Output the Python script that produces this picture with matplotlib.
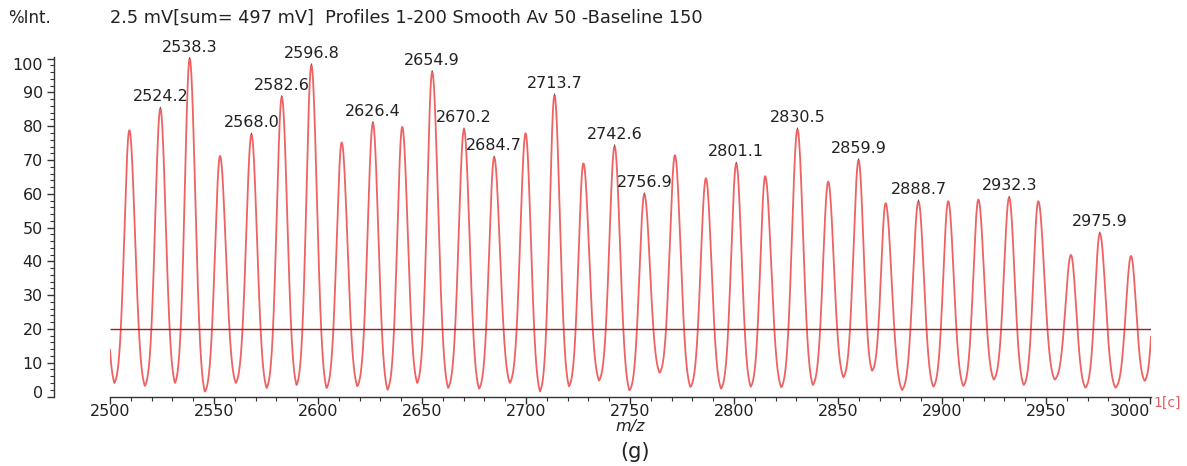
import numpy as np
import matplotlib
matplotlib.use('Agg')
import matplotlib.pyplot as plt
from matplotlib.ticker import MultipleLocator
from matplotlib.transforms import ScaledTranslation

plt.rcParams['font.family'] = ['DejaVu Sans']

# peak apexes (m/z, %Int), incl. one just outside each end
peak_mz = [2494.9, 2509.3, 2524.2, 2538.3, 2552.9, 2568.0, 2582.6, 2596.8, 2611.4,
           2626.4, 2640.5, 2654.9, 2670.2, 2684.7, 2699.8, 2713.7, 2727.6, 2742.6,
           2756.9, 2771.6, 2786.5, 2801.1, 2815.0, 2830.5, 2845.3, 2859.9, 2872.9,
           2888.7, 2903.0, 2917.5, 2932.3, 2946.3, 2962.0, 2975.9, 2990.9, 3004.0]
peak_int = [80.0, 78.8, 85.3, 100.0, 71.2, 77.6, 88.7, 98.1, 75.2,
            81.0, 79.8, 96.1, 79.1, 70.8, 77.9, 89.2, 69.0, 74.1,
            59.9, 71.4, 64.6, 69.0, 65.2, 79.1, 63.6, 70.0, 57.2,
            57.8, 57.8, 58.3, 58.9, 57.8, 41.9, 48.3, 41.6, 55.0]
# minima between neighbouring peaks
valley_int = [4.0, 3.1, 4.0, 1.4, 4.0, 2.5, 3.4, 2.5, 3.0, 2.0, 4.0, 2.5, 2.3, 4.0,
              1.5, 3.0, 4.7, 1.8, 7.0, 2.8, 2.3, 2.9, 2.7, 3.4, 5.7, 7.6, 1.9, 2.9,
              3.1, 5.0, 3.4, 5.0, 2.6, 2.6, 4.6]

# labelled peaks
label_mz = [2524.2, 2538.3, 2568.0, 2582.6, 2596.8, 2626.4, 2654.9, 2670.2, 2684.7,
            2713.7, 2742.6, 2756.9, 2801.1, 2830.5, 2859.9, 2888.7, 2932.3, 2975.9]

x_ticks = [2500, 2550, 2600, 2650, 2700, 2750, 2800, 2850, 2900, 2950, 3000]
y_ticks = [0, 10, 20, 30, 40, 50, 60, 70, 80, 90, 100]
threshold = 20
header = "2.5 mV[sum= 497 mV]  Profiles 1-200 Smooth Av 50 -Baseline 150"


def bell(u, k):
    return (np.exp(-(u * k) ** 2) - np.exp(-k ** 2)) / (1 - np.exp(-k ** 2))


# smooth trace through the apexes and minima
pk = np.array(peak_mz)
hk = np.array(peak_int)
vk = np.array(valley_int)
vx = (pk[:-1] + pk[1:]) / 2
x = np.linspace(2500, 3000.5, 5000)
y = np.zeros_like(x)
for i in range(len(vk)):
    m = (x >= pk[i]) & (x < vx[i])
    u = (x[m] - pk[i]) / (vx[i] - pk[i])
    y[m] = vk[i] + (hk[i] - vk[i]) * bell(u, 1.95)
    m = (x >= vx[i]) & (x <= pk[i + 1])
    u = (pk[i + 1] - x[m]) / (pk[i + 1] - vx[i])
    y[m] = vk[i] + (hk[i + 1] - vk[i]) * bell(u, 2.15)

W, H = 1187, 466
fig = plt.figure(figsize=(W / 100, H / 100), dpi=100)
ax = fig.add_axes([110 / W, 69.5 / H, 1041 / W, 339.5 / H])

ax.plot(x, y, color='#ee6262', lw=1.3)
ax.hlines(threshold, 2500, 3000.5, color='#a01e22', lw=1.0)

for mz in label_mz:
    h = peak_int[peak_mz.index(mz)]
    ax.annotate(f"{mz:.1f}", xy=(mz, h), xytext=(0, 3), textcoords='offset points',
                ha='center', va='bottom', fontsize=11.5, color='#222222',
                arrowprops=dict(arrowstyle='-', lw=0.6, color='#444444',
                                shrinkA=0, shrinkB=0))

ax.set_xlim(2500, 3000.5)
ax.set_ylim(0, 100.5)
ax.set_xticks(x_ticks)
ax.set_xticklabels([str(t) for t in x_ticks])
ax.set_yticks(y_ticks)
ax.set_yticklabels([str(t) for t in y_ticks])
ax.xaxis.set_minor_locator(MultipleLocator(10))
ax.yaxis.set_minor_locator(MultipleLocator(2))

for s in ['top', 'right']:
    ax.spines[s].set_visible(False)
ax.spines['left'].set_position(('outward', 40.3))
for s in ['left', 'bottom']:
    ax.spines[s].set_color('#333333')
    ax.spines[s].set_linewidth(1.0)

ax.tick_params(which='major', length=5, width=1, color='#333333', labelcolor='#222222')
ax.tick_params(which='minor', length=3, width=0.8, color='#333333')
ax.tick_params(axis='x', which='major', pad=0.5, labelsize=11.5)
ax.tick_params(axis='y', which='major', pad=3, labelsize=11.5)

# last m/z label sits left of its tick, as in the reference
for lab in ax.get_xticklabels():
    if lab.get_text() == '3000':
        lab.set_horizontalalignment('right')

# the end labels of the intensity axis sit slightly inward in the reference
yt = ax.yaxis.get_major_ticks()
yt[0].label1.set_transform(yt[0].label1.get_transform()
                           + ScaledTranslation(0, 5 / 100, fig.dpi_scale_trans))
yt[-1].label1.set_transform(yt[-1].label1.get_transform()
                            + ScaledTranslation(0, -5 / 100, fig.dpi_scale_trans))

fig.text(8 / W, 1 - 18 / H, "%Int.", fontsize=12, va='center', ha='left', color='#222222')
fig.text(110 / W, 1 - 18 / H, header, fontsize=12.8, va='center', ha='left', color='#222222')
fig.text(630 / W, 1 - 426 / H, "m/z", fontsize=11.5, style='italic', va='center', ha='center',
         color='#222222')
fig.text(635 / W, 1 - 452 / H, "(g)", fontsize=15, va='center', ha='center', color='#222222')
fig.text(1153 / W, 1 - 403 / H, "1[c]", fontsize=10, va='center', ha='left', color='#e06060')

fig.savefig('out.png', dpi=100)
